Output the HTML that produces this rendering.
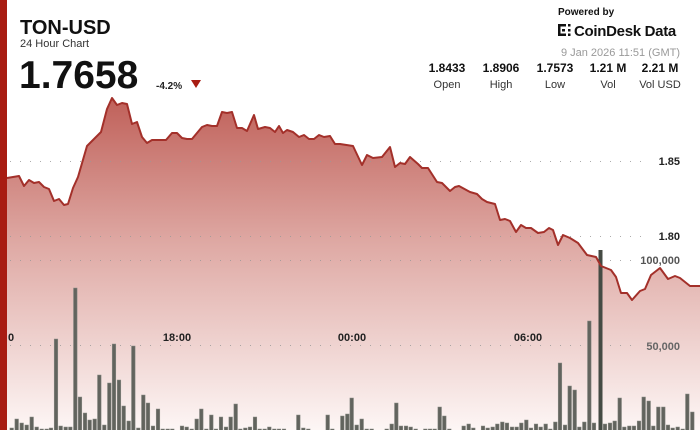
<!DOCTYPE html>
<html><head><meta charset="utf-8"><style>
html,body{margin:0;padding:0;background:#fff;}
body{width:700px;height:430px;overflow:hidden;position:relative;font-family:"Liberation Sans",sans-serif;}
</style></head><body>
<svg width="700" height="430" viewBox="0 0 700 430" xmlns="http://www.w3.org/2000/svg" style="position:absolute;left:0;top:0">
<defs>
<linearGradient id="g" gradientUnits="userSpaceOnUse" x1="0" y1="95" x2="0" y2="430">
<stop offset="0" stop-color="#bf5f58"/>
<stop offset="0.45" stop-color="#dfaaa5"/>
<stop offset="1" stop-color="#fdf6f5"/>
</linearGradient>
</defs>
<path id="area" fill="url(#g)" d="M7,178 L19,176 24,186 29,180 34,183 39,182 44,187 49,189 54,201 59,199 64,205 68,204 73,188 78,177 87,146 101,132 107,109 112,98 117,105 122,103 127,104 132,124 137,122 142,137 147,143 152,140 166,140 172,133 177,133 182,138 187,139 192,139 202,127 207,125 212,126 217,126 222,112 227,113 232,112 237,128 242,128 247,131 254,115 258,129 265,127 270,128 275,132 279,126 283,133 287,130 293,132 299,137 304,135 309,139 314,139 319,135 324,137 330,136 335,144 340,144 353,146 362,165 367,155 373,158 382,157 390,147 395,167 400,163 405,164 410,157 418,164 422,168 428,168 437,182 442,183 450,191 455,187 459,186 470,192 477,194 482,199 487,202 495,204 500,220 505,219 510,221 516,232 521,225 526,228 531,228 538,233 544,232 549,228 553,230 558,245 563,235 570,238 578,243 587,255 596,257 601,266 611,270 616,277 621,293 627,293 632,300 640,291 645,289 651,275 660,268 668,279 675,276 680,278 690,286 700,286 L700,430 L7,430 Z"/>
<g stroke="#999" stroke-width="1" stroke-dasharray="1 9" opacity="0.8">
<line x1="10" y1="161.5" x2="650" y2="161.5"/>
<line x1="10" y1="236.5" x2="650" y2="236.5"/>
<line x1="10" y1="260.5" x2="640" y2="260.5"/>
<line x1="10" y1="345.5" x2="640" y2="345.5"/>
</g>
<g fill="#62645e" stroke="#8a8c86" stroke-width="0.5" id="bars"></g>
<rect x="598.5" y="250" width="4" height="180" fill="#454b44"/>
<polyline fill="none" stroke="#a3302a" stroke-width="2" stroke-linejoin="round" points="7,178 19,176 24,186 29,180 34,183 39,182 44,187 49,189 54,201 59,199 64,205 68,204 73,188 78,177 87,146 101,132 107,109 112,98 117,105 122,103 127,104 132,124 137,122 142,137 147,143 152,140 166,140 172,133 177,133 182,138 187,139 192,139 202,127 207,125 212,126 217,126 222,112 227,113 232,112 237,128 242,128 247,131 254,115 258,129 265,127 270,128 275,132 279,126 283,133 287,130 293,132 299,137 304,135 309,139 314,139 319,135 324,137 330,136 335,144 340,144 353,146 362,165 367,155 373,158 382,157 390,147 395,167 400,163 405,164 410,157 418,164 422,168 428,168 437,182 442,183 450,191 455,187 459,186 470,192 477,194 482,199 487,202 495,204 500,220 505,219 510,221 516,232 521,225 526,228 531,228 538,233 544,232 549,228 553,230 558,245 563,235 570,238 578,243 587,255 596,257 601,266 611,270 616,277 621,293 627,293 632,300 640,291 645,289 651,275 660,268 668,279 675,276 680,278 690,286 700,286"/>
<g font-family="Liberation Sans, sans-serif" font-size="11" font-weight="bold" fill="#222">
<text x="680" y="165" text-anchor="end">1.85</text>
<text x="680" y="240" text-anchor="end">1.80</text>
<text x="680" y="264" text-anchor="end" fill="#555">100,000</text>
<text x="680" y="350" text-anchor="end" fill="#666">50,000</text>
<text x="8" y="341">0</text>
<text x="177" y="341" text-anchor="middle">18:00</text>
<text x="352" y="341" text-anchor="middle">00:00</text>
<text x="528" y="341" text-anchor="middle">06:00</text>
</g>
<rect x="0" y="0" width="7" height="430" fill="#a81c12"/>
<text x="20" y="34" font-size="20" font-weight="bold" fill="#111">TON-USD</text>
<text x="20" y="47" font-size="11" fill="#333">24 Hour Chart</text>
<text x="19" y="88" font-size="39" font-weight="bold" fill="#111">1.7658</text>
<text x="156" y="89" font-size="10" font-weight="bold" fill="#222">-4.2%</text>
<polygon points="191,80 201,80 196,88" fill="#a81c12"/>
<text x="558" y="15" font-size="10" font-weight="bold" fill="#111">Powered by</text>
<g fill="#111"><rect x="558" y="24" width="2.5" height="12"/><rect x="558" y="24" width="8" height="2.5"/><rect x="558" y="33.5" width="8" height="2.5"/><rect x="562" y="29" width="3" height="2.5"/><rect x="568" y="24" width="2.5" height="2.5"/><rect x="568" y="33.5" width="2.5" height="2.5"/><rect x="568" y="29" width="2.5" height="2.5"/></g>
<text x="574" y="36" font-size="15" font-weight="bold" fill="#111" letter-spacing="-0.3">CoinDesk Data</text>
<text x="680" y="56" font-size="11" fill="#999" text-anchor="end">9 Jan 2026 11:51 (GMT)</text>
<g font-size="12" font-weight="bold" fill="#111" text-anchor="middle">
<text x="447" y="72">1.8433</text><text x="501" y="72">1.8906</text><text x="555" y="72">1.7573</text><text x="608" y="72">1.21 M</text><text x="660" y="72">2.21 M</text>
</g>
<g font-size="11" fill="#333" text-anchor="middle">
<text x="447" y="88">Open</text><text x="501" y="88">High</text><text x="555" y="88">Low</text><text x="608" y="88">Vol</text><text x="660" y="88">Vol USD</text>
</g>
</svg>
<script>
var d=[[11.7,428],[16.7,419],[21.7,423],[26.7,425],[31.7,417],[36.7,427],[41.7,429],[46.7,429],[51,428],[56,339],[60.7,426],[65.7,427],[70.3,427],[75.3,288],[80,397],[85,413],[89.7,420],[94.7,419],[99.3,375],[104.3,425],[109.3,383],[114,344],[119,380],[123.7,406],[128.7,421],[133.3,346],[138.3,428],[143.3,395],[148,403],[153,426],[158,409],[162.7,429],[167.7,429],[172.3,429],[182,426],[186.7,427],[191.7,429],[196.7,419],[201.3,409],[206.3,429],[211.3,415],[216,429],[221,417],[226,427],[230.7,417],[235.7,404],[240.3,429],[245.3,428],[250,427],[255,417],[259.7,429],[264.7,429],[269.3,427],[274.3,429],[279,429],[284,429],[298.3,415],[303.3,428],[308.3,429],[327.7,415],[332.3,429],[342.3,416],[347.3,414],[351.7,398],[356.7,425],[361.7,419],[366.7,429],[371.7,429],[386.7,429],[391.7,424],[396.3,403],[401,426],[406,426],[410.7,427],[415.7,429],[425.3,429],[430,429],[434.7,429],[439.7,407],[444.3,416],[449.3,429],[463.7,426],[468.7,424],[473.3,428],[483,426],[487.7,428],[492.7,427],[497.3,424],[502.3,422],[507,423],[512,427],[516.7,427],[521.3,423],[526.3,420],[531,428],[536,424],[540.7,427],[545.7,424],[550.3,429],[555.3,422],[560,363],[565,425],[569.7,386],[574.7,390],[579.3,427],[584.3,422],[589.3,321],[594,423],[605,424],[610,423],[614.7,421],[619.7,398],[624.3,427],[629.3,426],[634,426],[639,421],[643.7,397],[648.7,401],[653.3,426],[658.3,407],[663.3,407],[668,425],[672.7,428],[677.7,427],[682.7,429],[687.3,394],[692.3,412]];
var g=document.getElementById('bars'),s='';
d.forEach(function(b){s+='<rect x="'+(b[0]-1.8)+'" y="'+b[1]+'" width="3.6" height="'+(431-b[1])+'"/>';});
g.innerHTML=s;
</script>
</body></html>
